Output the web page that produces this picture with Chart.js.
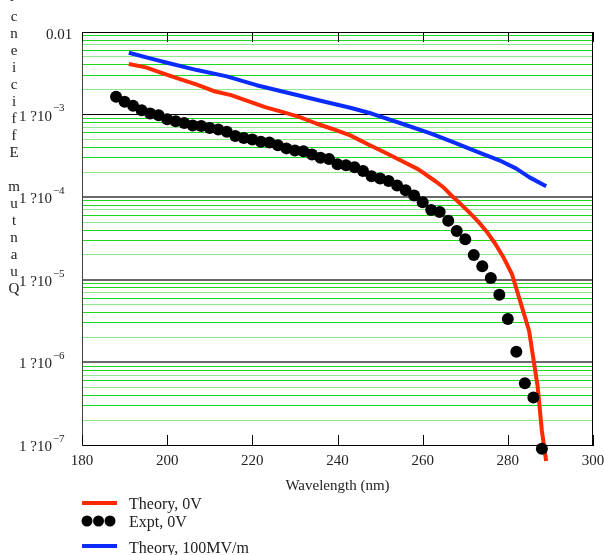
<!DOCTYPE html>
<html>
<head>
<meta charset="utf-8">
<script src="https://cdn.jsdelivr.net/npm/chart.js@4/dist/chart.umd.min.js"></script>
<style>
  html, body { margin: 0; padding: 0; background: #fff; }
  #wrap { width: 604px; height: 555px; }
</style>
</head>
<body>
<div id="wrap"><canvas id="qe" width="604" height="555"></canvas></div>
<script>
const FONT = '"Liberation Serif", "Times New Roman", serif';

// measured experiment, 0 V
const exptWavelength = [188,190,192,194,196,198,200,202,204,206,208,210,212,214,216,218,220,222,224,226,
  228,230,232,234,236,238,240,242,244,246,248,250,252,254,256,258,260,262,264,266,
  268,270,272,274,276,278,280,282,284,286,288];
const exptQE = [1.64e-3,1.43e-3,1.28e-3,1.13e-3,1.03e-3,9.8e-4,8.8e-4,8.3e-4,7.9e-4,7.4e-4,
  7.3e-4,6.9e-4,6.6e-4,6.2e-4,5.5e-4,5.2e-4,5.0e-4,4.7e-4,4.6e-4,4.25e-4,
  3.9e-4,3.67e-4,3.6e-4,3.28e-4,3.0e-4,2.9e-4,2.5e-4,2.43e-4,2.3e-4,2.07e-4,
  1.79e-4,1.68e-4,1.57e-4,1.39e-4,1.21e-4,1.05e-4,8.7e-5,7.0e-5,6.6e-5,5.2e-5,
  3.9e-5,3.1e-5,2.0e-5,1.46e-5,1.05e-5,6.6e-6,3.35e-6,1.35e-6,5.6e-7,3.75e-7,9.0e-8];

// theory, 0 V
const theory0Wavelength = [191,195,199,203,207,211,215,219,223,227,231,235,239,243,247,251,255,259,263,265,
  267,269,271,273,275,277,279,281,283,285,287,288,289];
const theory0QE = [4.1e-3,3.73e-3,3.15e-3,2.69e-3,2.31e-3,1.92e-3,1.72e-3,1.46e-3,1.23e-3,1.08e-3,
  9.4e-4,7.8e-4,6.65e-4,5.6e-4,4.4e-4,3.5e-4,2.76e-4,2.17e-4,1.56e-4,1.30e-4,
  1.02e-4,8.2e-5,6.5e-5,5.1e-5,3.85e-5,2.75e-5,1.86e-5,1.16e-5,5.3e-6,2.4e-6,5.1e-7,1.48e-7,6.4e-8];

// theory, 100 MV/m
const theory100Wavelength = [191,196,200,207,214,221,229,237,243,248,255,262,267,273,278,282,285,289];
const theory100QE = [5.6e-3,4.8e-3,4.24e-3,3.46e-3,2.9e-3,2.27e-3,1.80e-3,1.43e-3,1.21e-3,1.03e-3,
  7.8e-4,5.9e-4,4.67e-4,3.52e-4,2.8e-4,2.22e-4,1.75e-4,1.36e-4];

const seriesNames = ['Theory, 0V', 'Expt, 0V', 'Theory, 100MV/m'];

// y tick labels (the "?" is how the source renders its times sign)
const yDecades = [1e-2, 1e-3, 1e-4, 1e-5, 1e-6, 1e-7];
const yTickText = ['0.01', '1 ?10', '1 ?10', '1 ?10', '1 ?10', '1 ?10'];
const yTickExp = ['', '\u22123', '\u22124', '\u22125', '\u22126', '\u22127'];
const yTitle = 'Quantum Efficiency';
const xTitle = 'Wavelength (nm)';

function pts(xs, ys) { return xs.map((x, i) => ({ x: x, y: ys[i] })); }

function mantissa(v) {
  const e = Math.floor(Math.log10(v) + 1e-9);
  return Math.round(v / Math.pow(10, e));
}

const decor = {
  id: 'decor',
  beforeDatasetsDraw(chart) {
    const { ctx, chartArea: a, scales } = chart;
    ctx.save();
    ctx.strokeStyle = '#000';
    ctx.lineWidth = 1;
    ctx.beginPath();
    ctx.moveTo(a.left, a.top + 0.5); ctx.lineTo(a.right, a.top + 0.5);
    ctx.moveTo(a.right - 0.5, a.top); ctx.lineTo(a.right - 0.5, a.bottom);
    // inward ticks on bottom and top
    scales.x.ticks.forEach(t => {
      const x = Math.round(scales.x.getPixelForValue(t.value)) + 0.5;
      ctx.moveTo(x, a.bottom); ctx.lineTo(x, a.bottom - 10);
      ctx.moveTo(x, a.top); ctx.lineTo(x, a.top + 10);
    });
    ctx.stroke();
    ctx.restore();
  },
  afterDraw(chart) {
    const { ctx, scales } = chart;
    const y = scales.y;
    ctx.save();
    ctx.fillStyle = '#222';
    ctx.textBaseline = 'middle';
    // y tick labels
    yDecades.forEach((v, i) => {
      const py = y.getPixelForValue(v);
      ctx.font = '15px ' + FONT;
      ctx.textAlign = 'left';
      if (!yTickExp[i]) {
        ctx.fillText(yTickText[i], 46, py + 3);
        return;
      }
      ctx.fillText(yTickText[i], 19, py + 2);
      const w = ctx.measureText(yTickText[i]).width;
      ctx.font = '11px ' + FONT;
      ctx.fillText(yTickExp[i], 19 + w + 1, py - 6);
    });
    // stacked y title, read bottom to top
    ctx.font = '15px ' + FONT;
    ctx.textAlign = 'center';
    const letters = yTitle.split('').reverse();
    letters.forEach((ch, i) => ctx.fillText(ch, 14, i ? 17 * i : -6));
    // legend
    const ds = chart.data.datasets;
    const rows = [505, 523, 549];
    ctx.font = '16px ' + FONT;
    ctx.textAlign = 'left';
    seriesNames.forEach((name, i) => ctx.fillText(name, 129, rows[i]));
    ctx.lineCap = 'butt';
    ctx.lineWidth = 4;
    ctx.strokeStyle = ds[0].borderColor;
    ctx.beginPath(); ctx.moveTo(82, 503); ctx.lineTo(117, 503); ctx.stroke();
    ctx.strokeStyle = ds[2].borderColor;
    ctx.beginPath(); ctx.moveTo(82, 546); ctx.lineTo(117, 546); ctx.stroke();
    ctx.fillStyle = ds[1].backgroundColor;
    [87, 98.5, 110].forEach(cx => {
      ctx.beginPath(); ctx.arc(cx, 521, 5.5, 0, Math.PI * 2); ctx.fill();
    });
    ctx.restore();
  }
};

new Chart(document.getElementById('qe'), {
  type: 'scatter',
  data: {
    datasets: [
      {
        label: seriesNames[0],
        data: pts(theory0Wavelength, theory0QE),
        showLine: true,
        borderColor: '#ff2a00',
        borderWidth: 4,
        pointRadius: 0,
        borderJoinStyle: 'round',
        clip: false,
        order: 1
      },
      {
        label: seriesNames[1],
        data: pts(exptWavelength, exptQE),
        showLine: false,
        backgroundColor: '#000',
        borderColor: '#000',
        pointRadius: 6,
        borderWidth: 0,
        clip: false,
        order: 0
      },
      {
        label: seriesNames[2],
        data: pts(theory100Wavelength, theory100QE),
        showLine: true,
        borderColor: '#0a2cff',
        borderWidth: 4,
        pointRadius: 0,
        borderJoinStyle: 'round',
        order: 2
      }
    ]
  },
  options: {
    responsive: false,
    devicePixelRatio: 1,
    animation: false,
    layout: { padding: { left: 82, right: 11, top: 32, bottom: 60 } },
    plugins: { legend: { display: false }, tooltip: { enabled: false } },
    scales: {
      x: {
        type: 'linear',
        min: 180, max: 300,
        afterFit(scale) { scale.paddingLeft = 0; scale.paddingRight = 0; },
        grid: { display: false, drawTicks: false },
        border: { display: true, color: '#000', width: 1 },
        ticks: { stepSize: 20, color: '#222', font: { family: FONT, size: 15 }, padding: 7, autoSkip: false, maxRotation: 0 },
        title: { display: true, text: xTitle, color: '#222', font: { family: FONT, size: 15 }, padding: { top: 0, bottom: 0 } }
      },
      y: {
        type: 'logarithmic',
        min: 1e-7, max: 1e-2,
        afterBuildTicks(scale) {
          const t = [];
          for (let e = -7; e < -2; e++) for (let m = 1; m < 10; m++) t.push({ value: m * Math.pow(10, e) });
          t.push({ value: 1e-2 });
          scale.ticks = t;
        },
        ticks: { display: false, autoSkip: false },
        border: { display: true, color: '#444', width: 1 },
        grid: {
          drawTicks: false,
          color(c) {
            const v = c.tick.value;
            const m = mantissa(v);
            if (m === 1) return (v > 1.5e-7 && v < 5e-4) ? '#6a6a6a' : '#000';
            return (m === 2 || m === 5 || m === 7) ? '#8ee88e' : '#1ed81e';
          },
          lineWidth(c) {
            const v = c.tick.value;
            return (mantissa(v) === 1 && v > 1.5e-7 && v < 5e-4) ? 2 : 1;
          }
        }
      }
    }
  },
  plugins: [decor]
});
</script>
</body>
</html>
